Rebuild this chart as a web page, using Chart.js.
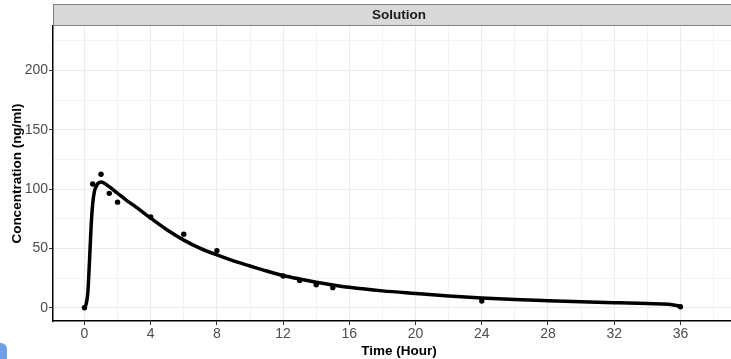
<!DOCTYPE html>
<html>
<head>
<meta charset="utf-8">
<script src="https://cdn.jsdelivr.net/npm/chart.js@4"></script>
<style>
    html, body { margin: 0; padding: 0; background: #fff; }
    #wrap { position: relative; width: 731px; height: 359px; overflow: hidden; }
    #chart { position: absolute; left: 0; top: 0; }
    #corner { position: absolute; left: 0; top: 343px; width: 7px; height: 16px; background: #6fa0e6; border-top-right-radius: 6px; }
</style>
</head>
<body>
<div id="wrap">
    <canvas id="chart" width="749" height="359"></canvas>
    <div id="corner"></div>
</div>
<script>
// Observed samples
const obsTime = [0, 0.5, 1, 1.5, 2, 4, 6, 8, 12, 13, 14, 15, 24, 36];
const obsConc = [0, 104.3, 112.5, 96.4, 89, 76.5, 61.9, 48, 26.7, 23, 19.4, 16.9, 5.6, 0.8];

// Fitted curve
const fitTime = [0, 0.1, 0.2, 0.3, 0.4, 0.5, 0.6, 0.7, 0.8, 1.0, 1.2, 1.5, 2, 2.5, 3, 4, 5, 6, 7, 8, 9, 10, 11, 12, 13, 14, 15, 16, 18, 20, 22, 24, 26, 28, 30, 32, 34, 35.3, 36];
const fitConc = [0, 3, 12, 38, 68, 88, 98, 102, 104.5, 106, 105, 102, 96.5, 91, 86, 75.5, 65.5, 57, 50, 44.5, 39.5, 35.2, 31, 27.2, 24.2, 21.5, 19.2, 17.2, 14.2, 12, 9.9, 8.2, 6.9, 5.9, 5, 4.2, 3.5, 3, 1.2];

// Axes
const xMajor = [0, 4, 8, 12, 16, 20, 24, 28, 32, 36];
const xMinor = [2, 6, 10, 14, 18, 22, 26, 30, 34, 38];
const yMajor = [0, 50, 100, 150, 200];
const yMinor = [25, 75, 125, 175, 225];

const stripLabel = 'Solution';
const xTitle = 'Time (Hour)';
const yTitle = 'Concentration (ng/ml)';

const tickFont = { family: "'Liberation Sans', Arial, sans-serif", size: 14 };
const titleFont = { family: "'Liberation Sans', Arial, sans-serif", size: 13.5, weight: 'bold' };

const allTicks = (major, minor) => major.concat(minor).sort((a, b) => a - b).map(v => ({ value: v }));
const isMajor = (list, v) => list.includes(v);

// facet strip on top of the panel
const stripPlugin = {
    id: 'strip',
    afterDraw(chart) {
        const { ctx, chartArea } = chart;
        ctx.save();
        ctx.fillStyle = '#d9d9d9';
        ctx.fillRect(chartArea.left, 4, chartArea.right - chartArea.left, 22);
        ctx.strokeStyle = '#7f7f7f';
        ctx.lineWidth = 1;
        ctx.strokeRect(chartArea.left + 0.5, 4.5, chartArea.right - chartArea.left, 21);
        ctx.fillStyle = '#1a1a1a';
        ctx.font = "bold 13.5px 'Liberation Sans', Arial, sans-serif";
        ctx.textAlign = 'center';
        ctx.textBaseline = 'middle';
        ctx.fillText(stripLabel, (chartArea.left + chartArea.right) / 2, 15.5);
        ctx.restore();
    }
};

new Chart(document.getElementById('chart'), {
    type: 'scatter',
    data: {
        datasets: [
            {
                type: 'line',
                data: fitTime.map((t, i) => ({ x: t, y: fitConc[i] })),
                borderColor: '#000',
                borderWidth: 3.5,
                pointRadius: 0,
                fill: false,
                cubicInterpolationMode: 'monotone'
            },
            {
                data: obsTime.map((t, i) => ({ x: t, y: obsConc[i] })),
                backgroundColor: '#000',
                borderColor: '#000',
                pointRadius: 2.7,
                borderWidth: 0
            }
        ]
    },
    plugins: [stripPlugin],
    options: {
        responsive: false,
        animation: false,
        layout: { padding: { top: 26, left: 0, right: 0, bottom: 0 } },
        plugins: { legend: { display: false }, tooltip: { enabled: false } },
        scales: {
            x: {
                type: 'linear',
                min: -1.9,
                max: 39.9,
                afterBuildTicks: s => { s.ticks = allTicks(xMajor, xMinor); },
                afterFit: s => { s.height = 38; },
                ticks: {
                    autoSkip: false,
                    maxRotation: 0,
                    padding: 1,
                    color: '#4d4d4d',
                    font: tickFont,
                    callback: v => isMajor(xMajor, v) ? String(v) : ''
                },
                grid: {
                    color: c => isMajor(xMajor, c.tick.value) ? '#ebebeb' : '#f3f3f3',
                    lineWidth: 1,
                    tickLength: 4,
                    tickColor: c => isMajor(xMajor, c.tick.value) ? '#333' : 'rgba(0,0,0,0)'
                },
                border: { display: true, color: '#000', width: 1.5 },
                title: { display: true, text: xTitle, color: '#000', font: titleFont, padding: { top: 2, bottom: 0 } }
            },
            y: {
                type: 'linear',
                min: -11.2,
                max: 237.5,
                afterBuildTicks: s => { s.ticks = allTicks(yMajor, yMinor); },
                afterFit: s => { s.width = 53; },
                ticks: {
                    autoSkip: false,
                    padding: 1,
                    color: '#4d4d4d',
                    font: tickFont,
                    callback: v => isMajor(yMajor, v) ? String(v) : ''
                },
                grid: {
                    color: c => isMajor(yMajor, c.tick.value) ? '#ebebeb' : '#f3f3f3',
                    lineWidth: 1,
                    tickLength: 4,
                    tickColor: c => isMajor(yMajor, c.tick.value) ? '#333' : 'rgba(0,0,0,0)'
                },
                border: { display: true, color: '#000', width: 1.5 },
                title: { display: true, text: yTitle, color: '#000', font: titleFont, padding: { top: 9, bottom: 0 } }
            }
        }
    }
});
</script>
</body>
</html>
